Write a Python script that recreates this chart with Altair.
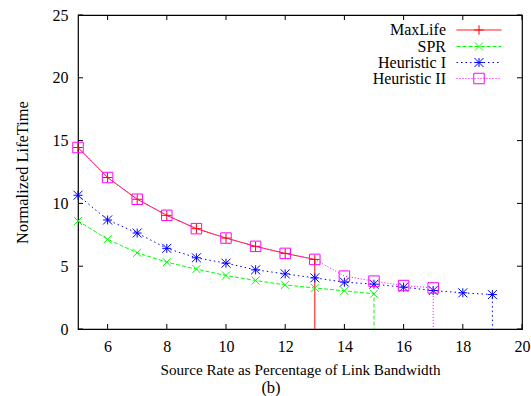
import altair as alt
import pandas as pd

# ---- data ----
x_maxlife = [5, 6, 7, 8, 9, 10, 11, 12, 13]
y_maxlife = [14.45, 12.06, 10.33, 9.05, 7.99, 7.24, 6.58, 6.02, 5.54]

x_spr = [5, 6, 7, 8, 9, 10, 11, 12, 13, 14, 15]
y_spr = [8.60, 7.14, 6.07, 5.32, 4.77, 4.26, 3.86, 3.51, 3.27, 3.04, 2.80]

x_heur1 = [5, 6, 7, 8, 9, 10, 11, 12, 13, 14, 15, 16, 17, 18, 19]
y_heur1 = [10.65, 8.68, 7.64, 6.42, 5.67, 5.24, 4.71, 4.39, 4.07, 3.73, 3.57, 3.33, 3.06, 2.88, 2.74]

x_heur2 = [5, 6, 7, 8, 9, 10, 11, 12, 13, 14, 15, 16, 17]
y_heur2 = [14.45, 12.06, 10.33, 9.05, 7.99, 7.24, 6.58, 6.02, 5.54, 4.21, 3.81, 3.46, 3.27]

names = ["MaxLife", "SPR", "Heuristic I", "Heuristic II"]
x_ticks = [6, 8, 10, 12, 14, 16, 18, 20]
y_ticks = [0, 5, 10, 15, 20, 25]
x_title = "Source Rate as Percentage of Link Bandwidth"
sub_label = "(b)"

# ---- styling ----
W, H = 444, 314
FONT = "Liberation Serif"
colors = ["#ff0000", "#00ff00", "#0000ff", "#ff00ff"]
dashes = [[1, 0], [4, 2], [1.5, 3], [1, 2]]
shapes = [
    "M-1,0L1,0M0,-1L0,1",
    "M-1,-1L1,1M-1,1L1,-1",
    "M-1,0L1,0M0,-1L0,1M-1,-1L1,1M-1,1L1,-1",
    "M-1,-1L1,-1L1,1L-1,1Z",
]
sizes = [90, 64, 81, 110]

xscale = alt.Scale(domain=[5, 20], nice=False, zero=False)
yscale = alt.Scale(domain=[0, 25], nice=False)

series = [(x_maxlife, y_maxlife), (x_spr, y_spr), (x_heur1, y_heur1), (x_heur2, y_heur2)]

layers = []

# base axes layer (no marks visible)
axis_df = pd.DataFrame({"x": [5, 20], "y": [0, 25]})
base = alt.Chart(axis_df).mark_point(opacity=0).encode(
    x=alt.X("x:Q", scale=xscale,
            axis=alt.Axis(values=x_ticks, tickSize=0, grid=False, labelFlush=False,
                          labelFont=FONT, labelFontSize=16, labelPadding=9, labelColor="black",
                          domain=False,
                          title=x_title,
                          titleFont=FONT, titleFontSize=15.2, titleFontWeight="normal",
                          titleColor="black", titleBaseline="alphabetic", titleY=45.5)),
    y=alt.Y("y:Q", scale=yscale,
            axis=alt.Axis(values=y_ticks, tickSize=0, grid=False,
                          labelFont=FONT, labelFontSize=16, labelPadding=10, labelColor="black",
                          domain=False,
                          title="Normalized LifeTime",
                          titleFont=FONT, titleFontSize=16.4, titleFontWeight="normal",
                          titleColor="black", titlePadding=22)),
)
layers.append(base)

# "(b)" sub-caption
layers.append(alt.Chart(pd.DataFrame({"s": [sub_label]})).mark_text(
    font=FONT, fontSize=16.5, color="black", align="center", baseline="alphabetic").encode(
    x=alt.value(193), y=alt.value(378), text="s:N"))

# inward ticks (gnuplot style, mirrored)
xt = pd.DataFrame({"t": x_ticks})
yt = pd.DataFrame({"t": y_ticks})
TL = 5
layers.append(alt.Chart(xt).mark_rule(color="black", strokeWidth=1).encode(
    x=alt.X("t:Q", scale=xscale), y=alt.value(H), y2=alt.value(H - TL)))
layers.append(alt.Chart(xt).mark_rule(color="black", strokeWidth=1).encode(
    x=alt.X("t:Q", scale=xscale), y=alt.value(0), y2=alt.value(TL)))
layers.append(alt.Chart(yt).mark_rule(color="black", strokeWidth=1).encode(
    y=alt.Y("t:Q", scale=yscale), x=alt.value(0), x2=alt.value(TL)))
layers.append(alt.Chart(yt).mark_rule(color="black", strokeWidth=1).encode(
    y=alt.Y("t:Q", scale=yscale), x=alt.value(W - TL), x2=alt.value(W)))

# series lines + points
for i, (xs, ys) in enumerate(series):
    rows = [{"x": a, "y": b, "o": k, "pt": True} for k, (a, b) in enumerate(zip(xs, ys))]
    # vertical drop to zero at the last x
    rows.append({"x": xs[-1], "y": 0, "o": len(xs), "pt": False})
    df = pd.DataFrame(rows)
    line = alt.Chart(df).mark_line(color=colors[i], strokeWidth=1, strokeDash=dashes[i],
                                   clip=True).encode(
        x=alt.X("x:Q", scale=xscale), y=alt.Y("y:Q", scale=yscale), order="o:Q")
    pts = alt.Chart(df).transform_filter("datum.pt").mark_point(
        shape=shapes[i], size=sizes[i], filled=False, color=colors[i], strokeWidth=1,
        opacity=1).encode(
        x=alt.X("x:Q", scale=xscale), y=alt.Y("y:Q", scale=yscale))
    layers += [line, pts]

# legend (gnuplot style: label left, sample right)
leg_y = [15, 31.5, 47.5, 63.5]
for i, nm in enumerate(names):
    ldf = pd.DataFrame({"name": [nm], "ly": [leg_y[i]]})
    layers.append(alt.Chart(ldf).mark_text(align="right", baseline="middle", font=FONT,
                                           fontSize=16, color="black").encode(
        x=alt.value(368), y=alt.Y("ly:Q", scale=None), text="name:N"))
    layers.append(alt.Chart(ldf).mark_rule(color=colors[i], strokeWidth=1,
                                           strokeDash=dashes[i]).encode(
        x=alt.value(378.5), x2=alt.value(423.5), y=alt.Y("ly:Q", scale=None)))
    layers.append(alt.Chart(ldf).mark_point(shape=shapes[i], size=sizes[i], filled=False,
                                            color=colors[i], strokeWidth=1, opacity=1).encode(
        x=alt.value(401), y=alt.Y("ly:Q", scale=None)))

chart = alt.layer(*layers).properties(
    width=W, height=H,
    autosize=alt.AutoSizeParams(type="none"),
    padding={"left": 78, "top": 15, "right": 9, "bottom": 67},
    background="white",
).configure_view(stroke="black", strokeWidth=1.2)

chart.save("out.html", embed_options={"renderer": "svg", "actions": False})
